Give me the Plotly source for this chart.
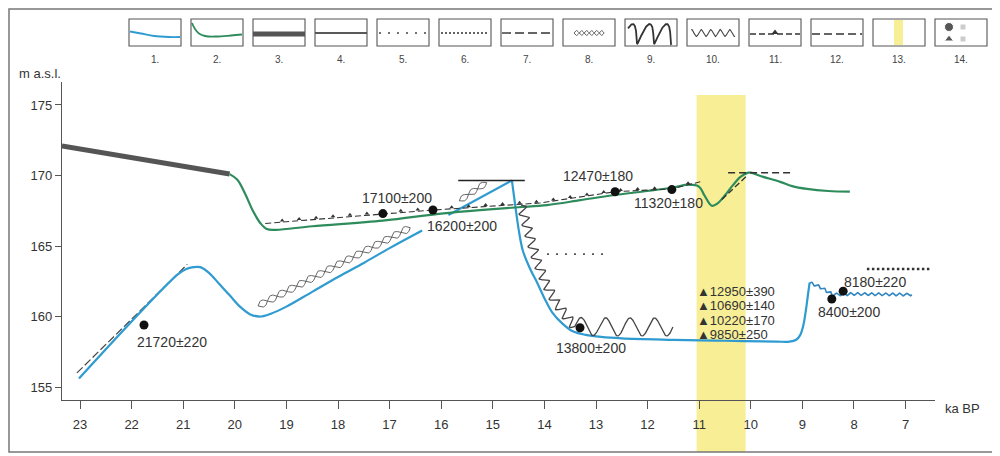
import numpy as np
import plotly.graph_objects as go

# The page body has an 8px margin: work in window pixels, figure is 992x448.
OFF = 8
W, H = 992, 448
X_RANGE = [23.349, 6.43]
Y_RANGE = [154.08, 176.63]
X_DOMAIN = [(62 - OFF) / W, (935 - OFF) / W]
Y_DOMAIN = [1 - (400 - OFF) / H, 1 - (82 - OFF) / H]
SX = W * (X_DOMAIN[1] - X_DOMAIN[0]) / (X_RANGE[0] - X_RANGE[1])
SY = H * (Y_DOMAIN[1] - Y_DOMAIN[0]) / (Y_RANGE[1] - Y_RANGE[0])

FONT = "Liberation Sans, Arial, sans-serif"
BLUE = "#2f9bd0"
GREEN = "#2e8c5c"
DARK = "#333333"

# ---------------- data ----------------
x_ticks = list(range(23, 6, -1))
y_ticks = [155, 160, 165, 170, 175]

ice_x = [23.35, 20.1]
ice_y = [172.1, 170.1]

green_x = [20.1, 19.95, 19.8, 19.65, 19.5, 19.38, 19.2, 18.5, 17.13, 16.0, 15.25, 14.5, 13.95,
           13.3, 12.67, 12.0, 11.5, 11.2, 11.0, 10.9, 10.8, 10.75, 10.65, 10.5, 10.35, 10.2,
           10.05, 10.0, 9.8, 9.43, 9.2, 8.91, 8.5, 8.08]
green_y = [170.1, 169.7, 168.7, 167.5, 166.6, 166.2, 166.15, 166.4, 166.8, 167.3, 167.55, 167.75,
           167.9, 168.25, 168.6, 168.9, 169.15, 169.35, 169.2, 168.6, 168.0, 167.85, 168.0, 168.6,
           169.3, 169.9, 170.2, 170.2, 169.95, 169.55, 169.25, 169.05, 168.9, 168.85]

blue1_x = [23.02, 21.1, 20.95, 20.8, 20.67, 20.5, 20.3, 20.1, 19.9, 19.7, 19.5, 19.3, 19.0,
           18.5, 18.0, 17.5, 17.0, 16.37]
blue1_y = [155.6, 163.0, 163.35, 163.5, 163.5, 163.1, 162.3, 161.5, 160.7, 160.15, 160.0, 160.2,
           160.7, 161.75, 162.8, 163.8, 164.85, 166.1]

blue2_x = [15.86, 14.63]
blue2_y = [167.2, 169.65]

blue3_x = [14.63, 14.57, 14.5, 14.42, 14.28, 14.14, 14.0, 13.85, 13.65, 13.45, 13.2,
           12.9, 12.5, 11.5, 10.5, 9.5, 9.25, 9.12, 9.04, 8.98, 8.93, 8.89, 8.86]
blue3_y = [169.65, 168.0, 166.2, 164.7, 163.4, 162.4, 161.3, 160.3, 159.5, 158.95, 158.7,
           158.55, 158.45, 158.35, 158.28, 158.22, 158.22, 158.35, 158.7, 159.4, 160.5, 161.6, 162.4]

blue_wave_x = [8.86, 8.66, 8.41, 8.0, 6.88]
blue_wave_y = [162.4, 162.1, 161.55, 161.6, 161.55]

shore_dash_x = [23.06, 20.92]          # type 7
shore_dash_y = [156.0, 163.7]

terrace_x = [19.41, 17.13, 16.16, 14.09, 12.63, 11.53, 10.98]   # type 11
terrace_y = [166.6, 167.3, 167.55, 168.05, 168.85, 169.05, 169.55]

rise_dash_x = [10.56, 10.07]
rise_dash_y = [168.3, 170.0]

top_dash_x = [10.44, 9.18]             # type 12
top_dash_y = [170.2, 170.2]

flat_line_x = [15.67, 14.38]           # type 4
flat_line_y = [169.65, 169.65]

dot_sparse_x = [13.95, 12.79]          # type 5
dot_sparse_y = [164.43, 164.43]

dot_dense_x = [7.75, 6.53]             # type 6
dot_dense_y = [163.37, 163.37]

helix1_x = [19.55, 16.6]               # type 8
helix1_y = [160.75, 166.3]
helix2_x = [15.65, 15.12]
helix2_y = [168.2, 169.5]

wave_desc_x = [14.45, 14.3, 14.15, 13.98, 13.78, 13.55, 13.41]   # type 9
wave_desc_y = [167.9, 165.9, 164.0, 162.4, 161.0, 159.9, 159.3]
wave_flat_x = [13.41, 12.5, 11.51]
wave_flat_y = [159.3, 159.26, 159.26]

band_x = [11.05, 10.1]                 # type 13

dates_x = [21.76, 17.13, 16.16, 12.63, 11.53, 13.31, 8.43, 8.21]
dates_y = [159.4, 167.3, 167.55, 168.85, 169.0, 159.2, 161.24, 161.8]
dates_lbl = ["21720±220", "17100±200", "16200±200", "12470±180", "11320±180",
             "13800±200", "8400±200", "8180±220"]
lbl_x = [21.93, 16.86, 16.31, 12.96, 11.6, 13.1, 8.1, 8.23]
lbl_y = [158.19, 168.4, 166.42, 169.96, 168.05, 157.77, 160.3, 162.45]
lbl_anchor = ["left", "center", "left", "center", "center", "center", "center", "left"]

tri_lbl = ["▲12950±390", "▲10690±140", "▲10220±170", "▲9850±250"]
tri_x = 11.08
tri_y = [161.8, 160.77, 159.74, 158.71]

legend_lbl = [f"{i}." for i in range(1, 15)]


# ---------------- helpers (line-style ornaments) ----------------
def to_px(x, y):
    return (X_RANGE[0] - np.asarray(x, float)) * SX, (np.asarray(y, float) - Y_RANGE[0]) * SY


def from_px(px, py):
    return X_RANGE[0] - px / SX, Y_RANGE[0] + py / SY


def resample(xs, ys, step):
    px, py = to_px(xs, ys)
    seg = np.hypot(np.diff(px), np.diff(py))
    s = np.concatenate([[0], np.cumsum(seg)])
    ss = np.append(np.arange(0, s[-1], step), s[-1])
    return ss, np.interp(ss, s, px), np.interp(ss, s, py), s[-1]


def wavy(xs, ys, amp, wl, phase=0.0):
    ss, qx, qy, L = resample(xs, ys, 0.5)
    n = max(1, int(round(2 * L / wl)))
    wl_eff = 2 * L / n
    dx, dy = np.gradient(qx), np.gradient(qy)
    nn = np.hypot(dx, dy)
    nx, ny = -dy / nn, dx / nn
    off = amp * np.sin(2 * np.pi * ss / wl_eff + phase)
    return from_px(qx + nx * off, qy + ny * off)


fig = go.Figure()


def line(x, y, color, width, dash="solid", xa="x", ya="y", shape="linear"):
    fig.add_trace(go.Scatter(x=list(x), y=list(y), mode="lines", xaxis=xa, yaxis=ya,
                             line=dict(color=color, width=width, dash=dash, shape=shape),
                             hoverinfo="skip", showlegend=False))


# ---------------- main chart ----------------
line(ice_x, ice_y, "#555555", 5)
line(shore_dash_x, shore_dash_y, "#444444", 1.2, "8px,3px")
line(blue1_x, blue1_y, BLUE, 2.2, shape="spline")
line(blue2_x, blue2_y, BLUE, 2.2)
line(blue3_x, blue3_y, BLUE, 2.2, shape="spline")
wx, wy = wavy(blue_wave_x, blue_wave_y, 1.3, 7)
line(wx, wy, "#2f86c0", 1.6)
line(green_x, green_y, GREEN, 2.2, shape="spline")

line(terrace_x, terrace_y, DARK, 1.1, "6px,3px")
ss, qx, qy, L = resample(terrace_x, terrace_y, 17)
mx, my = from_px(qx[1:-1], qy[1:-1] + 1.5)
fig.add_trace(go.Scatter(x=mx, y=my, mode="markers", hoverinfo="skip", showlegend=False,
                         marker=dict(symbol="triangle-up", size=4, color=DARK)))
line(rise_dash_x, rise_dash_y, DARK, 1.4, "6px,3px")
line(top_dash_x, top_dash_y, DARK, 1.5, "7px,4px")
line(flat_line_x, flat_line_y, "#222222", 1.5)
line(dot_sparse_x, dot_sparse_y, "#555555", 1.8, "2px,7px")
line(dot_dense_x, dot_dense_y, "#333333", 2.4, "2.5px,2.5px")

for ph in (0, np.pi):
    hx, hy = wavy(helix1_x, helix1_y, 3.5, 22, ph)
    line(hx, hy, "#555555", 0.9)
    hx, hy = wavy(helix2_x, helix2_y, 3.0, 20, ph)
    line(hx, hy, "#555555", 0.9)

ax1, ay1 = wavy(wave_desc_x, wave_desc_y, 4.5, 11)
ax2, ay2 = wavy(wave_flat_x, wave_flat_y, 9, 24)
line(np.concatenate([ax1, ax2]), np.concatenate([ay1, ay2]), "#444444", 1.3)

fig.add_trace(go.Scatter(x=dates_x, y=dates_y, mode="markers", hoverinfo="skip", showlegend=False,
                         marker=dict(size=9, color="#111111")))

for t, x, y, a in zip(dates_lbl, lbl_x, lbl_y, lbl_anchor):
    fig.add_annotation(x=x, y=y, text=t, showarrow=False, xanchor=a, yanchor="middle",
                       font=dict(family=FONT, size=14, color=DARK))
for t, y in zip(tri_lbl, tri_y):
    fig.add_annotation(x=tri_x, y=y, text=t, showarrow=False, xanchor="left", yanchor="middle",
                       font=dict(family=FONT, size=13, color=DARK))

shapes = []
# yellow band (13)
shapes.append(dict(type="rect", xref="x", yref="y2", x0=band_x[0], x1=band_x[1], y0=95, y1=452,
                   fillcolor="#f7ee96", line=dict(width=0), layer="below"))
# frame
shapes.append(dict(type="rect", xref="x2", yref="y2", x0=9, x1=995, y0=9, y1=452,
                   line=dict(color="#777777", width=1.5), layer="above"))

# ---------------- legend (window pixel space) ----------------
bx = [129 + 62 * i for i in range(14)]
BY0, BY1 = 19, 46
for i, x0 in enumerate(bx):
    shapes.append(dict(type="rect", xref="x2", yref="y2", x0=x0, x1=x0 + 52, y0=BY0, y1=BY1,
                       line=dict(color="#555555", width=1.1), layer="above"))
    fig.add_annotation(xref="x2", yref="y2", x=x0 + 26, y=59, text=legend_lbl[i], showarrow=False,
                       font=dict(family=FONT, size=10, color="#444444"))


def L2(x, y, color, width, dash="solid", shape="linear"):
    line(x, y, color, width, dash, "x2", "y2", shape)


x0 = bx[0]
L2([x0 + 1, x0 + 12, x0 + 25, x0 + 40, x0 + 51], [31.5, 33.5, 36, 37, 37], BLUE, 1.8, shape="spline")
x0 = bx[1]
L2([x0 + 1, x0 + 4, x0 + 8, x0 + 14, x0 + 25, x0 + 40, x0 + 51], [23, 29, 33.5, 36, 36.5, 35.5, 34.5],
   GREEN, 1.8, shape="spline")
x0 = bx[2]
L2([x0, x0 + 52], [34, 34], "#555555", 5)
x0 = bx[3]
L2([x0, x0 + 52], [33, 33], "#222222", 1.4)
x0 = bx[4]
L2([x0 + 2, x0 + 50], [33, 33], "#444444", 1.6, "2px,7px")
x0 = bx[5]
L2([x0 + 2, x0 + 50], [33, 33], "#333333", 1.6, "2px,2px")
x0 = bx[6]
L2([x0 + 1, x0 + 51], [33, 33], "#333333", 1.4, "9px,4px")
x0 = bx[7]
t = np.linspace(0, 30, 200)
for ph in (0, np.pi):
    L2(x0 + 11 + t, 33 + 2.5 * np.sin(2 * np.pi * t / 10 + ph), "#555555", 0.9)
x0 = bx[8]
t = np.linspace(0, 46, 300)
L2(x0 + 3 + t + 2.5 * np.sin(2 * np.pi * t / 17), 34 - 10 * np.sin(2 * np.pi * t / 17 + 0.6), "#333333", 1.8)
x0 = bx[9]
t = np.linspace(0, 44, 300)
L2(x0 + 4 + t, 33 - 3.5 * np.sin(2 * np.pi * t / 9.5 + 1.2), "#444444", 1.1)
x0 = bx[10]
L2([x0 + 1, x0 + 51], [34, 34], "#333333", 1.3, "6px,3px")
fig.add_trace(go.Scatter(x=[x0 + 26], y=[32.5], xaxis="x2", yaxis="y2", mode="markers",
                         hoverinfo="skip", showlegend=False,
                         marker=dict(symbol="triangle-up", size=6, color="#333333")))
x0 = bx[11]
L2([x0 + 1, x0 + 51], [34, 34], "#333333", 1.4, "8px,4px")
x0 = bx[12]
shapes.append(dict(type="rect", xref="x2", yref="y2", x0=x0 + 21, x1=x0 + 30, y0=BY0 + 1, y1=BY1 - 1,
                   fillcolor="#f7ee96", line=dict(width=0), layer="below"))
x0 = bx[13]
fig.add_trace(go.Scatter(x=[x0 + 14, x0 + 14], y=[27, 39], xaxis="x2", yaxis="y2", mode="markers",
                         hoverinfo="skip", showlegend=False,
                         marker=dict(symbol=["circle", "triangle-up"], size=[9, 8], color="#111111")))
fig.add_trace(go.Scatter(x=[x0 + 28, x0 + 28], y=[27, 39], xaxis="x2", yaxis="y2", mode="markers",
                         hoverinfo="skip", showlegend=False,
                         marker=dict(symbol="square", size=5, color="#cccccc")))

# axis titles
fig.add_annotation(xref="x2", yref="y2", x=17, y=73, text="m a.s.l.", showarrow=False, xanchor="left",
                   font=dict(family=FONT, size=13, color=DARK))
fig.add_annotation(xref="x2", yref="y2", x=943, y=408, text="ka BP", showarrow=False, xanchor="left",
                   font=dict(family=FONT, size=13, color=DARK))

fig.update_layout(
    width=W, height=H, margin=dict(l=0, r=0, t=0, b=0),
    paper_bgcolor="white", plot_bgcolor="rgba(0,0,0,0)", showlegend=False,
    shapes=shapes,
    xaxis=dict(domain=X_DOMAIN, range=X_RANGE, tickvals=x_ticks, ticktext=[str(v) for v in x_ticks],
               showline=True, linecolor="#555555", linewidth=1.2, ticks="outside", ticklen=8,
               tickcolor="#555555", showgrid=False, zeroline=False, anchor="y",
               tickfont=dict(family=FONT, size=13, color=DARK), ticklabelstandoff=4),
    yaxis=dict(domain=Y_DOMAIN, range=Y_RANGE, tickvals=y_ticks, showline=True, linecolor="#555555",
               linewidth=1.2, ticks="outside", ticklen=6, tickcolor="#555555", showgrid=False,
               zeroline=False, anchor="x", tickfont=dict(family=FONT, size=13, color=DARK)),
    xaxis2=dict(domain=[0, 1], range=[OFF, OFF + W], visible=False, anchor="y2", fixedrange=True),
    yaxis2=dict(domain=[0, 1], range=[OFF + H, OFF], visible=False, anchor="x2", fixedrange=True),
)

fig.write_html("out.html")
